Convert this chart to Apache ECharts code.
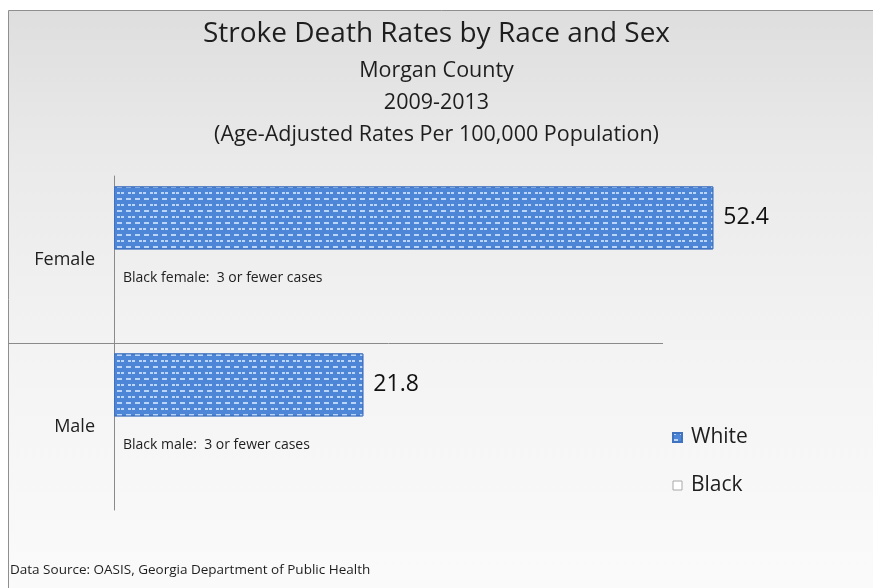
<!DOCTYPE html>
<html>
<head>
<meta charset="utf-8">
<script src="https://cdn.jsdelivr.net/npm/echarts@6/dist/echarts.min.js"></script>
<style>
  html, body { margin: 0; padding: 0; background: #ffffff; }
  #chart { width: 873px; height: 588px; }
</style>
</head>
<body>
<div id="chart"></div>
<script>
// Categories run bottom-to-top on the vertical axis
const categories = ['Male', 'Female'];
// Age-adjusted stroke death rates per 100,000, White population
const whiteRates = [21.8, 52.4];
// Black counts are suppressed (3 or fewer cases): zero-length bars carry the note
const blackRates = [0, 0];
const blackNotes = ['Black male:  3 or fewer cases', 'Black female:  3 or fewer cases'];
const seriesNames = ['White', 'Black'];
// Band edges of the two categories (bottom, between, top); only the inner edge is ruled
const bandEdges = ['', 'Male|Female', ''];

const titleLines = [
  'Stroke Death Rates by Race and Sex',
  'Morgan County',
  '2009-2013',
  '(Age-Adjusted Rates Per 100,000 Population)'
];
const sourceNote = 'Data Source: OASIS, Georgia Department of Public Health';

const FONT = '"Open Sans", "Noto Sans", sans-serif';
const chart = echarts.init(document.getElementById('chart'), null, { renderer: 'canvas' });

const innerEdgeOnly = function (index) { return index === 1; };

const option = {
  backgroundColor: '#ffffff',
  animation: false,
  graphic: [{
    type: 'rect',
    z: -10,
    silent: true,
    shape: { x: 8.5, y: 10.5, width: 900, height: 600 },
    style: {
      stroke: '#8f8f8f',
      lineWidth: 1,
      fill: new echarts.graphic.LinearGradient(0, 0, 0, 1, [
        { offset: 0, color: '#dedede' },
        { offset: 0.25, color: '#eaeaea' },
        { offset: 0.6, color: '#f4f4f4' },
        { offset: 1, color: '#fbfbfb' }
      ])
    }
  }],
  title: [
    { text: titleLines[0], left: 'center', top: 15,
      textStyle: { fontFamily: FONT, fontSize: 28, fontWeight: 'normal', color: '#1e1e1e' } },
    { text: titleLines[1], left: 'center', top: 55,
      textStyle: { fontFamily: FONT, fontSize: 21.5, fontWeight: 'normal', color: '#1e1e1e' } },
    { text: titleLines[2], left: 'center', top: 87,
      textStyle: { fontFamily: FONT, fontSize: 21.5, fontWeight: 'normal', color: '#1e1e1e' } },
    { text: titleLines[3], left: 'center', top: 119,
      textStyle: { fontFamily: FONT, fontSize: 21.5, fontWeight: 'normal', color: '#1e1e1e' } },
    { text: sourceNote, left: 5, top: 558,
      textStyle: { fontFamily: FONT, fontSize: 13.5, fontWeight: 'normal', color: '#1e1e1e' } }
  ],
  legend: {
    orient: 'vertical',
    left: 667,
    top: 422,
    icon: 'rect',
    itemWidth: 9,
    itemHeight: 9,
    itemGap: 27,
    data: [
      { name: seriesNames[0] },
      { name: seriesNames[1], itemStyle: { color: '#ffffff', borderColor: '#a8a8a8', borderWidth: 1 } }
    ],
    textStyle: { fontFamily: FONT, fontSize: 21, color: '#1e1e1e', padding: [0, 0, 0, 4] }
  },
  grid: { left: 114, right: 210, top: 176, bottom: 78, containLabel: false },
  xAxis: {
    type: 'value',
    min: 0,
    max: 48,
    show: false
  },
  yAxis: [
    {
      type: 'category',
      data: categories,
      axisLine: { show: true, lineStyle: { color: '#8a8a8a', width: 1 } },
      axisTick: { show: false },
      splitLine: { show: false },
      axisLabel: {
        margin: 19,
        fontFamily: FONT,
        fontSize: 18,
        color: '#1e1e1e'
      }
    },
    {
      // divider between the Female and Male bands, running out through the label column
      type: 'category',
      position: 'left',
      boundaryGap: false,
      data: bandEdges,
      axisLine: { show: false },
      axisLabel: { show: false },
      axisTick: {
        show: true,
        length: 106,
        interval: innerEdgeOnly,
        lineStyle: { color: '#8a8a8a', width: 1 }
      },
      splitLine: {
        show: true,
        interval: innerEdgeOnly,
        lineStyle: { color: '#8a8a8a', width: 1 }
      }
    }
  ],
  series: [
    {
      name: seriesNames[0],
      type: 'bar',
      yAxisIndex: 0,
      data: whiteRates,
      barWidth: 63,
      barGap: '32%',
      clip: false,
      itemStyle: {
        color: '#4e86d7',
        borderColor: '#3f72bf',
        borderWidth: 1,
        decal: {
          symbol: 'rect',
          symbolSize: 1,
          color: 'rgba(212,232,255,0.8)',
          dashArrayX: [[5, 4], [2.5, 4, 2.5, 0.01]],
          dashArrayY: [2, 3.5],
          rotation: 0
        }
      },
      label: {
        show: true,
        position: 'right',
        distance: 10,
        fontFamily: FONT,
        fontSize: 23,
        color: '#111111',
        formatter: function (p) { return p.value.toFixed(1); }
      }
    },
    {
      name: seriesNames[1],
      type: 'bar',
      yAxisIndex: 0,
      data: blackRates,
      barWidth: 63,
      clip: false,
      itemStyle: {
        color: '#ffffff',
        borderWidth: 0
      },
      label: {
        show: true,
        position: 'right',
        distance: 9,
        offset: [0, -23],
        fontFamily: FONT,
        fontSize: 14,
        color: '#1e1e1e',
        formatter: function (p) { return blackNotes[p.dataIndex]; }
      }
    }
  ]
};

chart.setOption(option);
</script>
</body>
</html>
